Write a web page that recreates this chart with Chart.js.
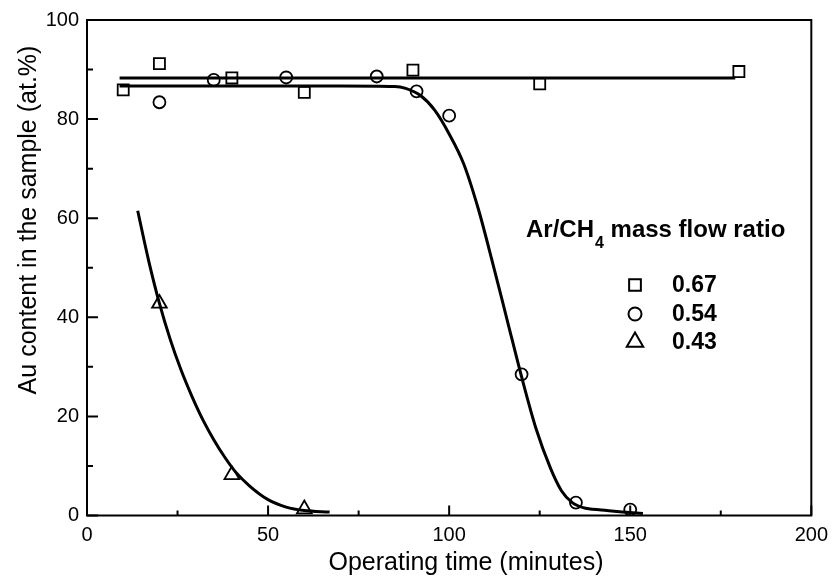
<!DOCTYPE html>
<html>
<head>
<meta charset="utf-8">
<title>Au content vs operating time</title>
<script src="https://cdn.jsdelivr.net/npm/chart.js@4.4.1/dist/chart.umd.min.js"></script>
<style>
  html, body { margin: 0; padding: 0; background: #fff; }
  #chart { display: block; }
</style>
</head>
<body>
<canvas id="chart" width="836" height="576"></canvas>
<script>
// measured points, Ar/CH4 = 0.67
const time067 = [10, 20, 40, 60, 90, 125, 180];
const au067 = [85.9, 91.2, 88.3, 85.4, 89.9, 87.1, 89.6];

// Ar/CH4 = 0.54
const time054 = [20, 35, 55, 80, 91, 100, 120, 135, 150];
const au054 = [83.4, 87.9, 88.4, 88.6, 85.6, 80.7, 28.5, 2.6, 1.2];

// Ar/CH4 = 0.43
const time043 = [20, 40, 60];
const au043 = [42.8, 8.2, 1.3];

// fitted curves
const fit067X = [9, 179];
const fit067Y = [88.3, 88.3];
const fit054X = [9, 40, 70, 85, 88, 92, 96, 100, 104, 108, 112, 116, 120, 124, 128, 131, 134, 137, 142, 148, 153.5];
const fit054Y = [86.7, 86.7, 86.7, 86.6, 86.2, 84.8, 81.8, 77, 71, 62, 51, 39.5, 28, 17.5, 9.5, 5, 2.6, 1.6, 1.1, 0.7, 0.4];
const fit043X = [14, 17, 20, 23, 26, 29, 32, 35, 38, 41, 45, 50, 55, 60, 67];
const fit043Y = [61.5, 51.5, 42.8, 35.5, 29.3, 24, 19.3, 15.3, 11.8, 8.8, 5.9, 3.2, 1.7, 1.0, 0.7];

// axis ticks
const xMajorTicks = [0, 50, 100, 150, 200];
const xMinorTicks = [25, 75, 125, 175];
const yMajorTicks = [0, 20, 40, 60, 80, 100];
const yMinorTicks = [10, 30, 50, 70, 90];

const legendLabels = ['0.67', '0.54', '0.43'];
const legendStyles = ['rect', 'circle', 'triangle'];

const FONT = "'Liberation Sans', Arial, Helvetica, sans-serif";

function toPoints(xs, ys) {
  return xs.map((x, i) => ({ x: x, y: ys[i] }));
}

function fitLine(xs, ys) {
  return {
    data: toPoints(xs, ys),
    showLine: true,
    borderColor: '#000',
    borderWidth: 3,
    pointRadius: 0,
    cubicInterpolationMode: 'monotone',
    fill: false,
  };
}

function markers(xs, ys, style, radius) {
  return {
    data: toPoints(xs, ys),
    showLine: false,
    pointStyle: style,
    pointRadius: radius,
    pointBorderWidth: 1.8,
    pointBorderColor: '#000',
    pointBackgroundColor: 'rgba(0,0,0,0)',
  };
}

function drawMarker(ctx, style, radius, x, y) {
  ctx.fillStyle = 'rgba(0,0,0,0)';
  if (Chart.helpers && Chart.helpers.drawPoint) {
    Chart.helpers.drawPoint(ctx, { pointStyle: style, radius: radius, borderWidth: 2 }, x, y);
    return;
  }
  ctx.beginPath();
  ctx.arc(x, y, radius, 0, Math.PI * 2);
  ctx.stroke();
}

// frame, inward ticks, axis titles and the legend
const decorations = {
  id: 'decorations',
  afterDraw(chart) {
    const { ctx, chartArea: a } = chart;
    const xs = chart.scales.x;
    const ys = chart.scales.y;
    ctx.save();
    ctx.strokeStyle = '#000';
    ctx.fillStyle = '#000';
    ctx.lineWidth = 2;
    ctx.strokeRect(a.left, a.top, a.right - a.left, a.bottom - a.top);

    ctx.beginPath();
    xMajorTicks.forEach(v => {
      const px = xs.getPixelForValue(v);
      ctx.moveTo(px, a.bottom); ctx.lineTo(px, a.bottom - 10);
    });
    xMinorTicks.forEach(v => {
      const px = xs.getPixelForValue(v);
      ctx.moveTo(px, a.bottom); ctx.lineTo(px, a.bottom - 5);
    });
    yMajorTicks.forEach(v => {
      const py = ys.getPixelForValue(v);
      ctx.moveTo(a.left, py); ctx.lineTo(a.left + 11, py);
    });
    yMinorTicks.forEach(v => {
      const py = ys.getPixelForValue(v);
      ctx.moveTo(a.left, py); ctx.lineTo(a.left + 6, py);
    });
    ctx.stroke();

    // axis titles
    ctx.font = '25px ' + FONT;
    ctx.textAlign = 'center';
    ctx.textBaseline = 'middle';
    ctx.fillText('Operating time (minutes)', 466, 563);
    ctx.save();
    ctx.translate(29, 220);
    ctx.rotate(-Math.PI / 2);
    ctx.fillText('Au content in the sample (at.%)', 0, 0);
    ctx.restore();

    // legend title with subscript
    ctx.textAlign = 'left';
    ctx.textBaseline = 'alphabetic';
    let tx = 526;
    ctx.font = 'bold 24px ' + FONT;
    ctx.fillText('Ar/CH', tx, 237);
    tx += ctx.measureText('Ar/CH').width;
    ctx.font = 'bold 16px ' + FONT;
    ctx.fillText('4', tx + 1, 248);
    tx += ctx.measureText('4').width + 1;
    ctx.font = 'bold 24px ' + FONT;
    ctx.fillText(' mass flow ratio', tx, 237);

    // legend entries
    const radii = [8.3, 6.5, 9.5];
    const rows = [285, 314, 342];
    legendLabels.forEach((label, i) => {
      ctx.lineWidth = 2;
      drawMarker(ctx, legendStyles[i], radii[i], 635, rows[i]);
      ctx.fillStyle = '#000';
      ctx.font = 'bold 23px ' + FONT;
      ctx.textBaseline = 'middle';
      ctx.fillText(label, 672, rows[i] + 1);
    });
    ctx.restore();
  }
};

new Chart(document.getElementById('chart'), {
  type: 'scatter',
  data: {
    datasets: [
      fitLine(fit067X, fit067Y),
      fitLine(fit054X, fit054Y),
      fitLine(fit043X, fit043Y),
      markers(time067, au067, 'rect', 7.8),
      markers(time054, au054, 'circle', 6),
      markers(time043, au043, 'triangle', 8.5),
    ],
  },
  options: {
    responsive: false,
    animation: false,
    devicePixelRatio: 1,
    layout: { padding: { left: 0, right: 18, top: 19.5, bottom: 0 } },
    plugins: {
      legend: { display: false },
      tooltip: { enabled: false },
    },
    scales: {
      x: {
        type: 'linear',
        min: 0,
        max: 200,
        grid: { display: false, drawTicks: false },
        border: { display: false },
        ticks: { stepSize: 50, color: '#000', padding: 8, font: { size: 20, family: FONT } },
        afterFit(scale) { scale.height = 60.5; },
      },
      y: {
        type: 'linear',
        min: 0,
        max: 100,
        grid: { display: false, drawTicks: false },
        border: { display: false },
        ticks: { stepSize: 20, color: '#000', padding: 8, font: { size: 20, family: FONT } },
        afterFit(scale) { scale.width = 87; },
      },
    },
  },
  plugins: [decorations],
});
</script>
</body>
</html>
